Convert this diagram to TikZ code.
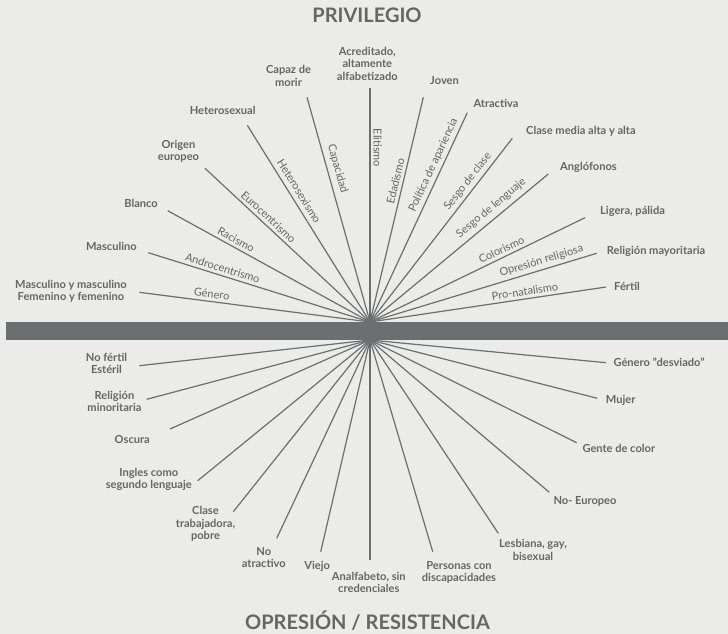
\documentclass[tikz,border=0pt]{standalone}
\usepackage{fontspec}
\setmainfont{Lato}
\definecolor{bg}{HTML}{EBEBE9}
\definecolor{ink}{HTML}{6D6E70}
\definecolor{txt}{HTML}{666666}
\tikzset{
  ray/.style={draw=ink, line width=1.2pt},
  endlbl/.style={font=\bfseries\fontsize{11.1}{12.3}\selectfont, text=txt, align=center, inner sep=0pt},
  raylbl/.style={font=\fontsize{11}{12}\selectfont, text=txt, sloped, above, inner sep=3pt},
  heading/.style={font=\bfseries\fontsize{20}{23}\selectfont, text=txt, anchor=base},
}
\begin{document}
\begin{tikzpicture}[x=1pt,y=-1pt]
\fill[bg] (0,0) rectangle (728,634);
\useasboundingbox (0,0) rectangle (728,634);

% centres of the two fans
\coordinate (U) at (370,322);
\coordinate (L) at (370,340);

% outer ends of the upper rays
\coordinate (eGen) at (139.3,292.3);
\coordinate (eAnd) at (148.3,252.7);
\coordinate (eRac) at (167.7,210.7);
\coordinate (eEur) at (205,168.3);
\coordinate (eHet) at (247.3,125.3);
\coordinate (eCap) at (307,97.3);
\coordinate (eEli) at (370,88.3);
\coordinate (eEda) at (423.3,97.3);
\coordinate (ePol) at (467.3,112.7);
\coordinate (eCla) at (512.3,138.3);
\coordinate (eLen) at (548.3,174);
\coordinate (eCol) at (585,217.7);
\coordinate (eRel) at (596.7,253.3);
\coordinate (eNat) at (606,287);

% outer ends of the lower rays
\coordinate (fFer) at (139.3,365.7);
\coordinate (fRel) at (146.7,399.3);
\coordinate (fOsc) at (170,429);
\coordinate (fIng) at (197.7,480.7);
\coordinate (fTra) at (233.3,511.7);
\coordinate (fAtr) at (276.7,538.3);
\coordinate (fVie) at (320.7,551.7);
\coordinate (fAna) at (370,560);
\coordinate (fDis) at (432.7,551.7);
\coordinate (fLgb) at (498.3,533.3);
\coordinate (fEur) at (549.3,492.3);
\coordinate (fCol) at (576.7,442.7);
\coordinate (fMuj) at (597.3,398.3);
\coordinate (fGen) at (606,362.7);

% upper rays with the name of each bias
\draw[ray] (U) -- (eGen) node[raylbl,pos=.69] {Género};
\draw[ray] (U) -- (eAnd) node[raylbl,pos=.675] {Androcentrismo};
\draw[ray] (U) -- (eRac) node[raylbl,pos=.68] {Racismo};
\draw[ray] (U) -- (eEur) node[raylbl,pos=.647] {Eurocentrismo};
\draw[ray] (U) -- (eHet) node[raylbl,pos=.64,inner sep=4.5pt] {Heterosexismo};
\draw[ray] (U) -- (eCap) node[raylbl,pos=.67,inner sep=4.5pt] {Capacidad};
\draw[ray] (U) -- (eEli) node[pos=.745, rotate=-90, anchor=south, font=\fontsize{11}{12}\selectfont, text=txt, inner sep=3pt] {Elitismo};
\draw[ray] (U) -- (eEda) node[raylbl,pos=.618] {Edadismo};
\draw[ray] (U) -- (ePol) node[raylbl,pos=.732] {Política de apariencia};
\draw[ray] (U) -- (eCla) node[raylbl,pos=.736] {Sesgo de clase};
\draw[ray] (U) -- (eLen) node[raylbl,pos=.716,inner sep=4.5pt] {Sesgo de lenguaje};
\draw[ray] (U) -- (eCol) node[raylbl,pos=.627] {Colorismo};
\draw[ray] (U) -- (eRel) node[raylbl,pos=.767] {Opresión religiosa};
\draw[ray] (U) -- (eNat) node[raylbl,pos=.661] {Pro-natalismo};

% lower rays
\foreach \e in {fFer,fRel,fOsc,fIng,fTra,fAtr,fVie,fAna,fDis,fLgb,fEur,fCol,fMuj,fGen}
  \draw[ray] (L) -- (\e);

% dividing band
\fill[ink] (6,322) rectangle (728,340);

% privileged groups
\node[endlbl, anchor=east] (tGen) at (127,291) {Masculino y masculino\\Femenino y femenino};
\node[endlbl, anchor=east] (tAnd) at (137,246.3) {Masculino};
\node[endlbl, anchor=east] (tRac) at (158,203.7) {Blanco};
\node[endlbl] (tEur) at (178.5,151) {Origen\\europeo};
\node[endlbl] (tHet) at (222.7,110.3) {Heterosexual};
\node[endlbl] (tCap) at (288.5,75.8) {Capaz de\\morir};
\node[endlbl] (tEli) at (367.3,63.7) {Acreditado,\\altamente\\alfabetizado};
\node[endlbl, anchor=west] (tEda) at (430,81) {Joven};
\node[endlbl, anchor=west] (tPol) at (473.3,103.3) {Atractiva};
\node[endlbl, anchor=west] (tCla) at (526,131.3) {Clase media alta y alta};
\node[endlbl, anchor=west] (tLen) at (560,167.3) {Anglófonos};
\node[endlbl, anchor=west] (tCol) at (600,211) {Ligera, pálida};
\node[endlbl, anchor=west] (tRel) at (606.7,251.7) {Religión mayoritaria};
\node[endlbl, anchor=west] (tNat) at (614,286.7) {Fértil};

% oppressed groups
\node[endlbl] (uFer) at (106.5,363.3) {No fértil\\Estéril};
\node[endlbl] (uRel) at (114.5,401.7) {Religión\\minoritaria};
\node[endlbl, anchor=east] (uOsc) at (150,439) {Oscura};
\node[endlbl, anchor=east] (uIng) at (192,479.7) {Ingles como\\segundo lenguaje};
\node[endlbl] (uTra) at (205.5,524) {Clase\\trabajadora,\\pobre};
\node[endlbl] (uAtr) at (263.8,557.7) {No\\atractivo};
\node[endlbl] (uVie) at (317.2,566.7) {Viejo};
\node[endlbl] (uAna) at (368.8,582.5) {Analfabeto, sin\\credenciales};
\node[endlbl] (uDis) at (459,572.5) {Personas con\\discapacidades};
\node[endlbl] (uLgb) at (533,550) {Lesbiana, gay,\\bisexual};
\node[endlbl, anchor=west] (uEur) at (553.3,501.7) {No- Europeo};
\node[endlbl, anchor=west] (uCol) at (582.3,448.3) {Gente de color};
\node[endlbl, anchor=west] (uMuj) at (605.7,400.7) {Mujer};
\node[endlbl, anchor=west] (uGen) at (613.3,362.7) {Género "desviado"};

% headings
\node[heading] (top) at (367,22.7) {PRIVILEGIO};
\node[heading] (bottom) at (367.5,629.3) {OPRESIÓN / RESISTENCIA};
\end{tikzpicture}
\end{document}
